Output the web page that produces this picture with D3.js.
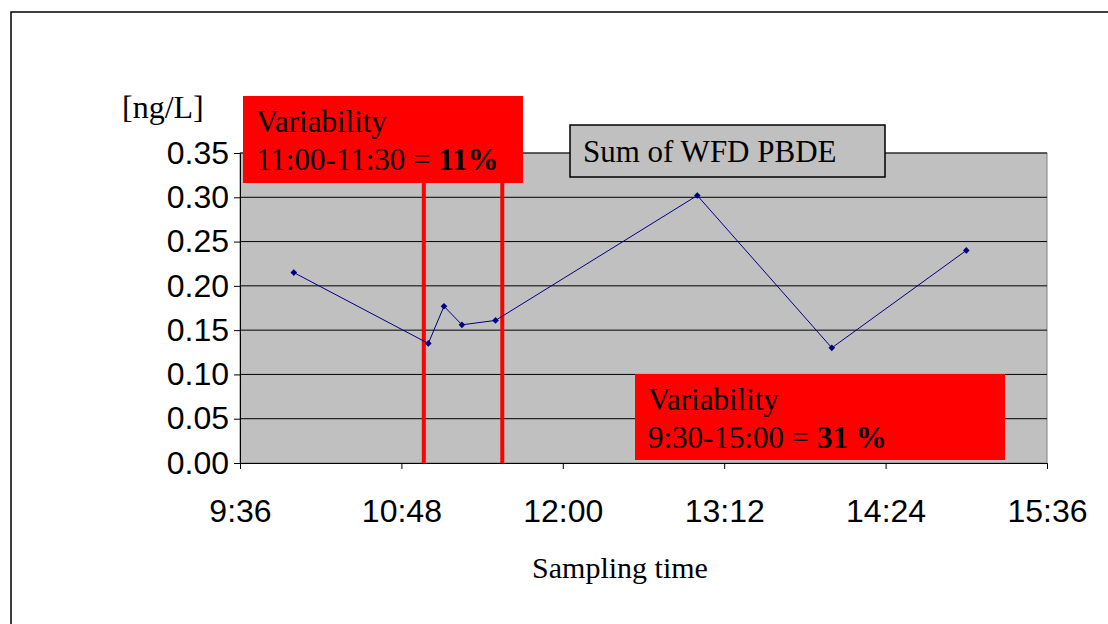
<!DOCTYPE html>
<html><head><meta charset="utf-8">
<script src="https://cdn.jsdelivr.net/npm/d3@7"></script>
<style>body{margin:0;background:#fff}</style></head>
<body><div id="chart"></div>
<script>
// sampling times (minutes since midnight) and concentrations [ng/L]
const times = ["10:00","11:00","11:07","11:15","11:30","13:00","14:00","15:00"];
const values = [0.215, 0.135, 0.177, 0.156, 0.161, 0.302, 0.130, 0.240];
const yTicks = [0, 0.05, 0.10, 0.15, 0.20, 0.25, 0.30, 0.35];
const xTicks = ["9:36","10:48","12:00","13:12","14:24","15:36"];
const markerTimes = ["10:58","11:33"];

const toMin = s => { const [h, m] = s.split(":").map(Number); return h * 60 + m; };

const W = 1108, H = 624;
const svg = d3.select("#chart").append("svg").attr("width", W).attr("height", H);
svg.append("rect").attr("x", 11).attr("y", 12).attr("width", W).attr("height", H)
  .attr("fill", "#fff").attr("stroke", "#000").attr("stroke-width", 1.5);

const x = d3.scaleLinear().domain([toMin("9:36"), toMin("15:36")]).range([240, 1047]);
const y = d3.scaleLinear().domain([0, 0.35]).range([463, 153]);

svg.append("rect").attr("x", 240).attr("y", 153).attr("width", 807).attr("height", 310)
  .attr("fill", "#c0c0c0").attr("stroke", "#808080");

svg.selectAll(".grid").data(yTicks.slice(1)).enter().append("line")
  .attr("x1", 240).attr("x2", 1047).attr("y1", d => y(d)).attr("y2", d => y(d))
  .attr("stroke", "#000").attr("stroke-width", 1);

const sans = "Liberation Sans, Arial";
const ya = svg.append("g").attr("transform", "translate(240,0)")
  .call(d3.axisLeft(y).tickValues(yTicks).tickFormat(d3.format(".2f")).tickSize(6));
ya.select(".domain").attr("stroke", "#000");
ya.selectAll("text").attr("font-family", sans).attr("font-size", 32).attr("fill", "#000").attr("dx", -2);

const xa = svg.append("g").attr("transform", "translate(0,463)")
  .call(d3.axisBottom(x).tickValues(xTicks.map(toMin)).tickFormat((d, i) => xTicks[i]).tickSize(6));
xa.select(".domain").attr("stroke", "#000");
xa.selectAll("text").attr("font-family", sans).attr("font-size", 32).attr("fill", "#000").attr("dy", "1.55em");

// red variability markers
svg.selectAll(".vl").data(markerTimes).enter().append("line")
  .attr("x1", d => x(toMin(d))).attr("x2", d => x(toMin(d)))
  .attr("y1", 183).attr("y2", 463).attr("stroke", "#ff0000").attr("stroke-width", 4);

const pts = times.map((t, i) => [toMin(t), values[i]]);
svg.append("path").datum(pts)
  .attr("d", d3.line().x(d => x(d[0])).y(d => y(d[1])))
  .attr("fill", "none").attr("stroke", "#000080").attr("stroke-width", 1);
svg.selectAll(".pt").data(pts).enter().append("path")
  .attr("transform", d => `translate(${x(d[0])},${y(d[1])}) rotate(45)`)
  .attr("d", d3.symbol(d3.symbolSquare, 22)).attr("fill", "#000080");

const serif = "Liberation Serif, Times New Roman";
svg.append("text").attr("x", 122).attr("y", 118).attr("font-family", serif).attr("font-size", 32).text("[ng/L]");
svg.append("text").attr("x", 620).attr("y", 578).attr("text-anchor", "middle").attr("font-family", serif).attr("font-size", 30).text("Sampling time");

// boxes
svg.append("rect").attr("x", 570).attr("y", 125).attr("width", 315).attr("height", 52)
  .attr("fill", "#c0c0c0").attr("stroke", "#000").attr("stroke-width", 1.5);
svg.append("text").attr("x", 583).attr("y", 162).attr("font-family", serif).attr("font-size", 31).text("Sum of WFD PBDE");

function redBox(bx, by, bw, bh, l1, l2a, l2b) {
  svg.append("rect").attr("x", bx).attr("y", by).attr("width", bw).attr("height", bh).attr("fill", "#ff0000");
  svg.append("text").attr("x", bx + 13).attr("y", by + 36).attr("font-family", serif).attr("font-size", 31).text(l1);
  const t = svg.append("text").attr("x", bx + 13).attr("y", by + 74).attr("font-family", serif).attr("font-size", 31);
  t.append("tspan").text(l2a);
  t.append("tspan").attr("font-weight", "bold").text(l2b);
}
redBox(243, 96, 280, 87, "Variability", "11:00-11:30 = ", "11%");
redBox(635, 374, 370, 86, "Variability", "9:30-15:00 = ", "31 %");
</script></body></html>
